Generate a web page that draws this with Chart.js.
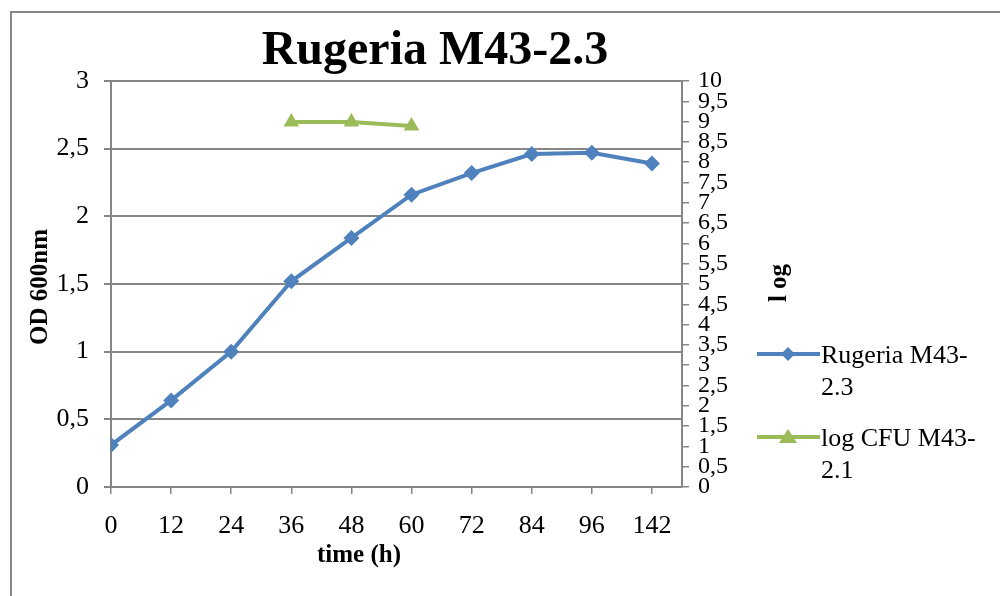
<!DOCTYPE html>
<html>
<head>
<meta charset="utf-8">
<script src="https://cdn.jsdelivr.net/npm/chart.js@4.4.1/dist/chart.umd.min.js"></script>
<style>
  html, body { margin: 0; padding: 0; background: #fff; }
  #wrap { width: 1000px; height: 596px; position: relative; }
</style>
</head>
<body>
<div id="wrap"><canvas id="grafica"></canvas></div>
<script>
const horas = ['0', '12', '24', '36', '48', '60', '72', '84', '96', '142'];
const odRugeria = [0.31, 0.64, 1.0, 1.52, 1.84, 2.16, 2.32, 2.46, 2.47, 2.39];
const logCfu = [null, null, null, 8.99, 8.99, 8.89, null, null, null, null];
const nombres = ['Rugeria M43-2.3', 'log CFU M43-2.1'];
const leyenda = [['Rugeria M43-', '2.3'], ['log CFU M43-', '2.1']];

const azul = '#4F81BD';
const verde = '#9BBB59';
const gris = '#868686';
const serif = '"Liberation Serif", "Times New Roman", serif';

const coma = v => String(v).replace('.', ',');

// puntos {x, y} para poder dejar media categoria libre a la derecha
const puntos = arr => arr.map((v, i) => ({ x: i, y: v }));

// titulo, ejes y leyenda dibujados a mano
const textos = {
  id: 'textos',
  beforeDraw(chart) {
    const c = chart.ctx;
    c.save();
    c.strokeStyle = gris;
    c.lineWidth = 2;
    c.strokeRect(11, 12, 1000, 600);
    c.restore();
  },
  afterDraw(chart) {
    const c = chart.ctx;
    c.save();
    c.fillStyle = '#000';
    c.textAlign = 'center';
    c.textBaseline = 'middle';

    c.font = 'bold 48px ' + serif;
    c.fillText('Rugeria M43-2.3', 435, 52);

    c.font = 'bold 25px ' + serif;
    c.fillText('time (h)', 359, 556);

    c.save();
    c.translate(41, 287);
    c.rotate(-Math.PI / 2);
    c.fillText('OD 600nm', 0, 0);
    c.restore();

    c.save();
    c.translate(780, 283);
    c.rotate(-Math.PI / 2);
    c.fillText('l og', 0, 0);
    c.restore();

    // leyenda
    const filas = [354, 437];
    chart.data.datasets.forEach((ds, i) => {
      const y = filas[i];
      c.strokeStyle = ds.borderColor;
      c.lineWidth = 4;
      c.beginPath();
      c.moveTo(757, y);
      c.lineTo(820, y);
      c.stroke();
      c.fillStyle = ds.borderColor;
      c.beginPath();
      if (ds.pointStyle === 'rectRot') {
        c.moveTo(788, y - 7); c.lineTo(795, y); c.lineTo(788, y + 7); c.lineTo(781, y);
      } else {
        c.moveTo(788, y - 8); c.lineTo(797, y + 6); c.lineTo(779, y + 6);
      }
      c.closePath();
      c.fill();

      c.fillStyle = '#000';
      c.textAlign = 'left';
      c.font = '26px ' + serif;
      c.fillText(leyenda[i][0], 821, y + 2);
      c.fillText(leyenda[i][1], 821, y + 34);
    });
    c.restore();
  }
};

new Chart(document.getElementById('grafica'), {
  type: 'line',
  data: {
    datasets: [
      {
        label: nombres[0],
        data: puntos(odRugeria),
        yAxisID: 'y',
        borderColor: azul,
        backgroundColor: azul,
        borderWidth: 4,
        pointStyle: 'rectRot',
        pointRadius: 8,
        pointBorderWidth: 0,
        tension: 0
      },
      {
        label: nombres[1],
        data: puntos(logCfu),
        yAxisID: 'y2',
        borderColor: verde,
        backgroundColor: verde,
        borderWidth: 4,
        pointStyle: 'triangle',
        pointRadius: 9,
        pointBorderWidth: 0,
        tension: 0
      }
    ]
  },
  options: {
    responsive: true,
    maintainAspectRatio: false,
    animation: false,
    layout: { padding: { top: 81, left: 0, right: 0, bottom: 0 } },
    plugins: {
      legend: { display: false },
      tooltip: { enabled: false }
    },
    scales: {
      x: {
        type: 'linear',
        min: 0,
        max: 9.5,
        afterBuildTicks: s => { s.ticks = horas.map((_, i) => ({ value: i })); },
        afterFit: s => { s.height = 596 - 487; },
        ticks: {
          autoSkip: false,
          maxRotation: 0,
          padding: 17,
          color: '#000',
          font: { family: serif, size: 26 },
          callback: v => horas[v]
        },
        grid: { drawOnChartArea: false, drawTicks: true, tickLength: 7, color: gris, lineWidth: 1.5 },
        border: { display: true, color: gris, width: 1.5 }
      },
      y: {
        position: 'left',
        min: 0,
        max: 3,
        afterFit: s => { s.width = 111; },
        ticks: {
          stepSize: 0.5,
          padding: 15,
          color: '#000',
          font: { family: serif, size: 26 },
          callback: coma
        },
        grid: { color: gris, lineWidth: 2, tickLength: 7 },
        border: { display: true, color: gris, width: 2 }
      },
      y2: {
        position: 'right',
        min: 0,
        max: 10,
        afterFit: s => { s.width = 1000 - 682; },
        ticks: {
          stepSize: 0.5,
          autoSkip: false,
          padding: 9,
          color: '#000',
          font: { family: serif, size: 24 },
          callback: coma
        },
        grid: { drawOnChartArea: false, tickLength: 7, color: gris, lineWidth: 1.5 },
        border: { display: true, color: gris, width: 2 }
      }
    }
  },
  plugins: [textos]
});
</script>
</body>
</html>
